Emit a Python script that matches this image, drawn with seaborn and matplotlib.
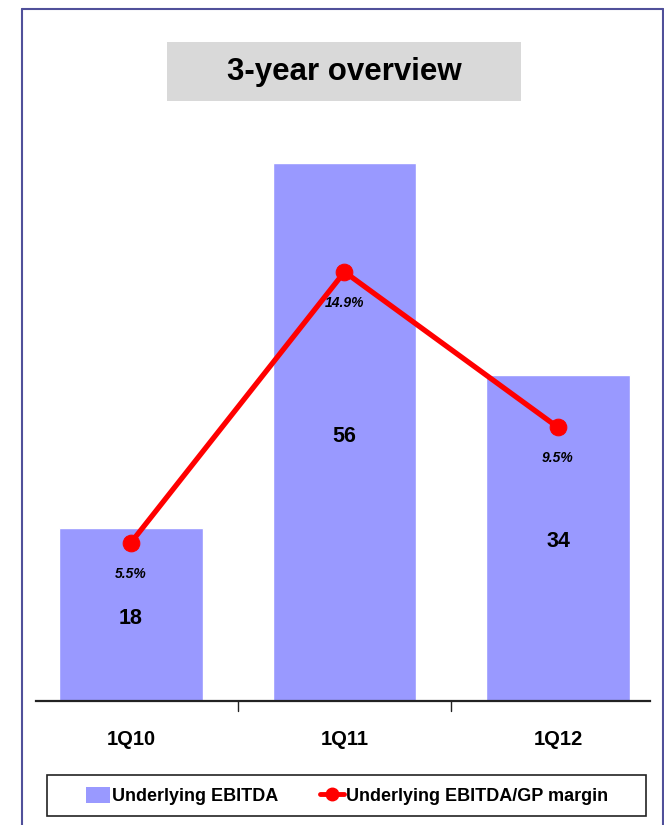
import matplotlib
matplotlib.use("Agg")
import matplotlib.pyplot as plt
import seaborn as sns
import pandas as pd
from matplotlib.patches import Rectangle, Patch
from matplotlib.lines import Line2D

categories = ["1Q10", "1Q11", "1Q12"]
ebitda = [18, 56, 34]
margin = [5.5, 14.9, 9.5]
margin_labels = ["5.5%", "14.9%", "9.5%"]
title = "3-year overview"
legend_labels = ["Underlying EBITDA", "Underlying EBITDA/GP margin"]

sns.set_style("white")
FONT = ["Liberation Sans", "DejaVu Sans"]
plt.rcParams["font.family"] = FONT
plt.rcParams["text.color"] = "black"
plt.rcParams["xtick.color"] = "black"

BAR_COLOR = "#9999ff"
LINE_COLOR = "#ff0000"

W, H = 664, 825
fig = plt.figure(figsize=(W / 100, H / 100), dpi=100)

def fx(px):
    return px / W

def fy(py):
    return 1 - py / H

# axes: x 36..650 px, y 125..701 px
ax = fig.add_axes([fx(36), fy(701), fx(650) - fx(36), (701 - 125) / H])
df = pd.DataFrame({"cat": categories, "ebitda": ebitda, "margin": margin})
sns.barplot(data=df, x="cat", y="ebitda", color=BAR_COLOR, saturation=1,
            width=0.67, ax=ax)
ax.set_ylim(0, 60)
ax.set_xlim(-0.445, 2.431)

ax2 = ax.twinx()
sns.lineplot(x=[0, 1, 2], y=df["margin"], ax=ax2, color=LINE_COLOR, lw=3.8,
             marker="o", markersize=12, markeredgecolor=LINE_COLOR)
ax2.set_ylim(0, 20)
ax2.set_xlim(-0.445, 2.431)

for a in (ax, ax2):
    for s in ["top", "right", "left"]:
        a.spines[s].set_visible(False)
    a.set_yticks([])
    a.set_ylabel("")
    a.set_xlabel("")
ax2.spines["bottom"].set_visible(False)
ax.spines["bottom"].set_color("#222222")
ax.spines["bottom"].set_linewidth(1.6)

ax.set_xticks([0, 1, 2])
ax.set_xticklabels(categories, fontsize=14.5, fontweight="bold", family=FONT, color="black")
ax.tick_params(axis="x", length=0, pad=21)
for xb in [0.5, 1.5]:
    ax.plot([xb, xb], [0, -0.017], transform=ax.get_xaxis_transform(),
            color="#222222", lw=1, clip_on=False)

# value labels
for i, v in enumerate(ebitda):
    ax.annotate(str(v), (i, v / 2), xytext=(0, -4), textcoords="offset pixels",
                ha="center", va="center", fontsize=15.5,
                fontweight="bold", family=FONT, color="black")
for i, (m, lab) in enumerate(zip(margin, margin_labels)):
    ax2.annotate(lab, (i, m), xytext=(0, -31), textcoords="offset pixels",
                 ha="center", va="center", fontsize=10, fontweight="bold",
                 style="italic", family=FONT, color="black")

# title box
fig.patches.append(Rectangle((fx(167), fy(101)), fx(521) - fx(167), (101 - 42) / H,
                             transform=fig.transFigure, facecolor="#d9d9d9",
                             edgecolor="none", zorder=0))
fig.text(fx(344), fy(72), title, ha="center", va="center", fontsize=22.5,
         fontweight="bold", family=FONT, color="black")

# outer frame
fc = "#50509a"
fig.add_artist(Line2D([fx(22), fx(22)], [fy(9), 0], transform=fig.transFigure, color=fc, lw=1.5))
fig.add_artist(Line2D([fx(22), fx(663)], [fy(9), fy(9)], transform=fig.transFigure, color=fc, lw=1.5))
fig.add_artist(Line2D([fx(663), fx(663)], [fy(9), 0], transform=fig.transFigure, color=fc, lw=1.5))

# legend
fig.patches.append(Rectangle((fx(47), fy(816)), fx(646) - fx(47), (816 - 775) / H,
                             transform=fig.transFigure, facecolor="white",
                             edgecolor="#222222", lw=1.2, zorder=1))
handles = [Patch(facecolor=BAR_COLOR, edgecolor="none"),
           Line2D([], [], color=LINE_COLOR, lw=3.5, marker="o", markersize=9)]
leg = fig.legend(handles, legend_labels, loc="center", bbox_to_anchor=(fx(347), fy(796)),
                 ncol=2, frameon=False, handlelength=1.33, handleheight=0.95,
                 handletextpad=0.12, columnspacing=2.3,
                 prop={"family": FONT, "weight": "bold", "size": 13})
leg.set_zorder(2)

fig.savefig("out.png", dpi=100)
